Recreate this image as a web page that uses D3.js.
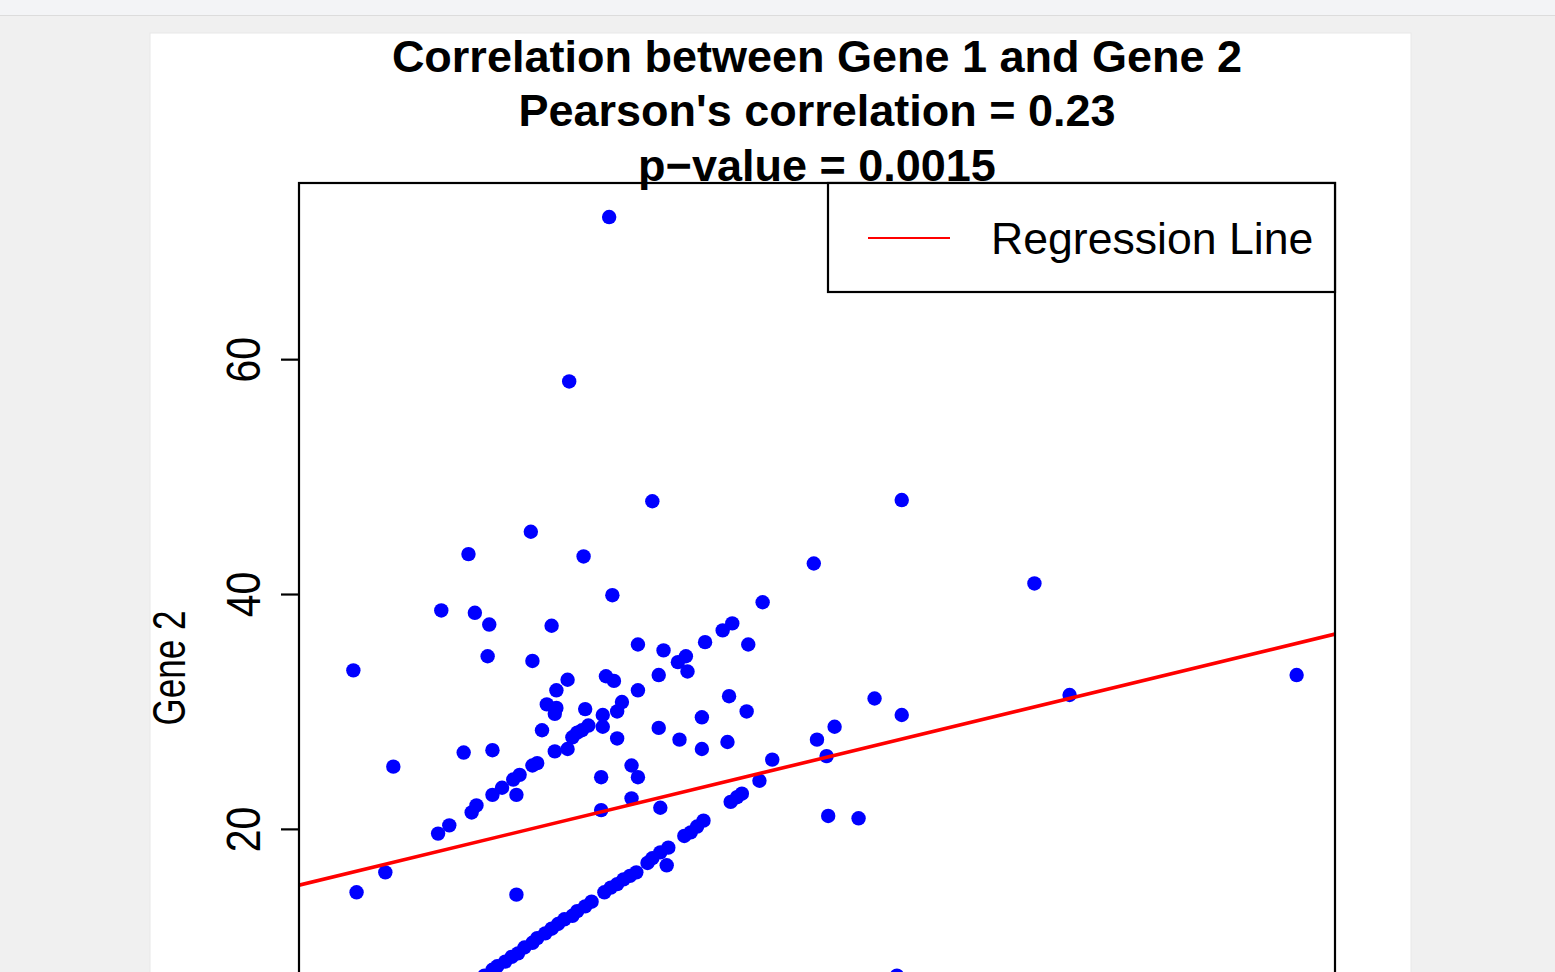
<!DOCTYPE html>
<html>
<head>
<meta charset="utf-8">
<script src="https://cdn.jsdelivr.net/npm/d3@7"></script>
<style>
  html, body { margin: 0; padding: 0; overflow: hidden; background: #f0f0f0; }
  svg { display: block; }
</style>
</head>
<body>
<svg id="chart" width="1555" height="972"></svg>
<script>
// ---------------- data ----------------
const gene1 = [
  17.0, 14.5, 19.7, 35.3, 12.1, 8.2, 15.4, 29.8, 43.6, 17.2,
  26.6, 6.5, 8.6, 9.5, 13.4, 24.7, 24.1, 18.8, 23.0, 25.7,
  20.4, 21.8, 21.3, 21.9, 12.2, 9.4, 1.0, 60.0, 14.4, 16.8,
  17.3, 20.1, 13.7, 18.8, 24.5, 45.8, 33.6, 13.1, 13.7, 13.6,
  15.5, 17.8, 17.5, 16.6, 25.6, 35.3, 22.8, 31.1, 20.1, 16.6,
  15.7, 15.3, 15.0, 14.7, 12.8, 17.5, 21.4, 30.0, 24.4, 22.8,
  13.6, 14.4, 7.9, 9.7, 30.6, 27.2, 12.5, 12.2, 18.4, 3.5,
  11.4, 11.0, 16.5, 18.8, 26.4, 25.3, 25.0, 24.6, 10.3, 9.7,
  11.2, 8.7, 8.4, 7.0, 6.3, 16.5, 18.4, 20.2, 30.7, 32.6,
  22.9, 22.5, 22.1, 21.7, 20.7, 20.2, 19.7, 19.4, 20.6, 3.0,
  1.2, 11.2, 18.7, 18.3, 17.9, 17.5, 17.1, 16.7, 15.9, 15.5,
  15.0, 14.7, 14.2, 13.8, 13.4, 13.0, 12.5, 12.2, 11.7, 11.3,
  10.9, 10.5, 10.0, 9.7, 35.0, 15.4, 9.2
];
const gene2 = [
  72.1, 58.1, 47.9, 48.0, 45.3, 43.4, 43.2, 42.6, 40.9, 39.9,
  39.3, 38.6, 38.4, 37.4, 37.3, 37.5, 36.9, 35.7, 35.9, 35.7,
  35.2, 34.7, 34.2, 33.4, 34.3, 34.7, 33.5, 33.1, 32.7, 33.0,
  32.6, 33.1, 31.8, 31.8, 31.3, 31.4, 31.1, 30.6, 30.3, 29.8,
  30.2, 30.8, 30.0, 29.7, 30.0, 29.7, 29.5, 28.7, 28.6, 28.7,
  28.8, 28.4, 28.2, 27.8, 28.4, 27.7, 27.6, 27.6, 27.4, 26.8,
  26.6, 26.8, 26.5, 26.7, 26.2, 25.9, 25.6, 25.4, 25.4, 25.3,
  24.6, 24.2, 24.4, 24.4, 24.1, 23.0, 22.7, 22.3, 23.5, 22.9,
  22.9, 22.0, 21.4, 20.3, 19.6, 21.6, 22.6, 21.8, 21.1, 20.9,
  20.7, 20.2, 19.7, 19.4, 18.4, 18.0, 17.5, 17.1, 16.9, 16.3,
  14.6, 14.4, 16.3, 16.0, 15.7, 15.3, 15.0, 14.6, 13.8, 13.4,
  13.0, 12.6, 12.3, 11.9, 11.5, 11.1, 10.7, 10.3, 9.9, 9.4,
  9.1, 8.7, 8.3, 8.0, 7.5, 7.2, 7.5
];
const regIntercept = 16.0;   // fitted line
const regSlope = 0.33;
const xDomain = [-2.4, 62.4];
const yDomain = [-7.6, 75.0];
const yTicks = [20, 40, 60];          // ticks visible in the picture
const titleLines = ["Correlation between Gene 1 and Gene 2",
                    "Pearson's correlation = 0.23",
                    "p\u2212value = 0.0015"];
const yLabel = "Gene 2";
const legendLabel = "Regression Line";

// ---------------- layout ----------------
const FONT = "'Liberation Sans', Arial, Helvetica, sans-serif";
const plot = { left: 299, right: 1335, top: 183, bottom: 1153 };
const svg = d3.select("#chart");

// page chrome
svg.append("rect").attr("x", 0).attr("y", 0).attr("width", 1555).attr("height", 972).attr("fill", "#f0f0f0");
svg.append("rect").attr("x", 0).attr("y", 0).attr("width", 1555).attr("height", 15).attr("fill", "#f3f4f6");
svg.append("line").attr("x1", 0).attr("x2", 1555).attr("y1", 15.5).attr("y2", 15.5)
  .attr("stroke", "#dcdcdc").attr("stroke-width", 1);
svg.append("rect").attr("x", 150).attr("y", 33).attr("width", 1261).attr("height", 1200)
  .attr("fill", "#ffffff").attr("stroke", "#e8e8e8").attr("stroke-width", 1);

const x = d3.scaleLinear().domain(xDomain).range([plot.left, plot.right]);
const y = d3.scaleLinear().domain(yDomain).range([plot.bottom, plot.top]);

svg.append("defs").append("clipPath").attr("id", "plotclip")
  .append("rect").attr("x", plot.left).attr("y", plot.top)
  .attr("width", plot.right - plot.left).attr("height", plot.bottom - plot.top);

// points
const pts = gene1.map((g, i) => ({ x: g, y: gene2[i] }));
svg.append("g").selectAll("circle").data(pts).join("circle")
  .attr("cx", d => x(d.x)).attr("cy", d => y(d.y)).attr("r", 7.2)
  .attr("fill", "#0000ff");

// regression line
svg.append("line").attr("clip-path", "url(#plotclip)")
  .attr("x1", x(xDomain[0])).attr("y1", y(regIntercept + regSlope * xDomain[0]))
  .attr("x2", x(xDomain[1])).attr("y2", y(regIntercept + regSlope * xDomain[1]))
  .attr("stroke", "#ff0000").attr("stroke-width", 3.6);

// frame
svg.append("rect").attr("x", plot.left).attr("y", plot.top)
  .attr("width", plot.right - plot.left).attr("height", plot.bottom - plot.top)
  .attr("fill", "none").attr("stroke", "#000").attr("stroke-width", 2.2);

// y axis
const yAxis = d3.axisLeft(y).tickValues(yTicks).tickSize(18).tickPadding(0).tickFormat(d3.format("d"));
const gy = svg.append("g").attr("transform", `translate(${plot.left},0)`).call(yAxis);
gy.select(".domain").remove();
gy.selectAll(".tick line").attr("stroke", "#000").attr("stroke-width", 2.2);
gy.selectAll(".tick text")
  .attr("x", 0).attr("y", 0).attr("dy", null)
  .attr("transform", "translate(-39,0) rotate(-90) scale(1,1.15)")
  .attr("text-anchor", "middle")
  .attr("font-family", FONT).attr("font-size", 41).attr("fill", "#000");

// y axis label
svg.append("text")
  .attr("transform", `translate(185,${(plot.top + plot.bottom) / 2}) rotate(-90) scale(1,1.3)`)
  .attr("text-anchor", "middle").attr("font-family", FONT).attr("font-size", 35)
  .attr("fill", "#000").text(yLabel);

// title
const cx = (plot.left + plot.right) / 2;
svg.append("g").selectAll("text").data(titleLines).join("text")
  .attr("x", cx).attr("y", (d, i) => 71.5 + i * 54.5)
  .attr("text-anchor", "middle").attr("font-family", FONT)
  .attr("font-weight", "bold").attr("font-size", 45).attr("fill", "#000")
  .text(d => d);

// legend
const lg = svg.append("g");
lg.append("rect").attr("x", 828).attr("y", plot.top).attr("width", plot.right - 828).attr("height", 109)
  .attr("fill", "#fff").attr("stroke", "#000").attr("stroke-width", 2.2);
lg.append("line").attr("x1", 868).attr("x2", 950).attr("y1", 238).attr("y2", 238)
  .attr("stroke", "#ff0000").attr("stroke-width", 2);
lg.append("text").attr("x", 991).attr("y", 254).attr("font-family", FONT).attr("font-size", 44.6)
  .attr("fill", "#000").text(legendLabel);
</script>
</body>
</html>
